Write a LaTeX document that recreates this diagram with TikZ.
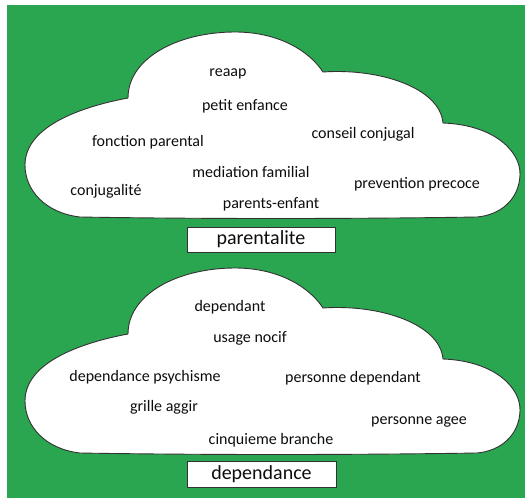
\documentclass[tikz,border=0pt]{standalone}
\usepackage{fontspec}
\setmainfont{Carlito}
\definecolor{vert}{RGB}{42,166,80}
\definecolor{contour}{RGB}{50,50,50}

\begin{document}
\begin{tikzpicture}[x=1pt, y=-1pt]

% Define styles for words and labels
\tikzstyle{mot}=[anchor=base, inner sep=0pt, font=\fontsize{16}{19}\selectfont, text=black!95]
\tikzstyle{titre}=[rectangle, draw=contour, fill=white, line width=0.9pt, font=\fontsize{20}{24}\selectfont, text=black!95, minimum width=148pt, minimum height=25pt, inner sep=0pt]

%Define the cloud outline
\tikzset{nuage/.pic={
	\path[fill=white, draw=contour, line width=0.9pt]
	(128,98) .. controls (128,58) and (178,32) .. (235,32)
	.. controls (280,32) and (310,52) .. (323,72)
	.. controls (380,68) and (440,88) .. (443,123)
	.. controls (495,125) and (521,152) .. (520,175)
	.. controls (519,200) and (500,215) .. (477,217)
	.. controls (350,219) and (200,219) .. (80,217)
	.. controls (45,213) and (25,190) .. (25,165)
	.. controls (25,125) and (85,106) .. (128,98) -- cycle;
}}

\fill[white] (0,0) rectangle (525,498);
\useasboundingbox (0,0) rectangle (525,498);
\fill[vert] (7,5) rectangle (525,498);

% Top cloud
\pic at (0,0) {nuage};
\node[mot] (reaap) at (228,76) {reaap};
\node[mot] (petit) at (245,110) {petit enfance};
\node[mot] (fonction) at (148,146) {fonction parental};
\node[mot] (conseil) at (363,138) {conseil conjugal};
\node[mot] (mediation) at (251,177) {mediation familial};
\node[mot] (conjug) at (106,195) {conjugalité};
\node[mot] (prevention) at (417,188) {prevention precoce};
\node[mot] (parents) at (271,208) {parents-enfant};
\node[titre] (parentalite) at (261,239.5) {parentalite};

% Bottom cloud
\pic at (0,236) {nuage};
\node[mot] (dependant) at (230,311) {dependant};
\node[mot] (usage) at (250,342) {usage nocif};
\node[mot] (psychisme) at (145,381) {dependance psychisme};
\node[mot] (personnedep) at (353,382) {personne dependant};
\node[mot] (grille) at (164,411) {grille aggir};
\node[mot] (agee) at (419,424) {personne agee};
\node[mot] (cinquieme) at (271,444) {cinquieme branche};
\node[titre, minimum width=149pt, minimum height=26pt] (dependance) at (261.5,474) {dependance};

\end{tikzpicture}
\end{document}
